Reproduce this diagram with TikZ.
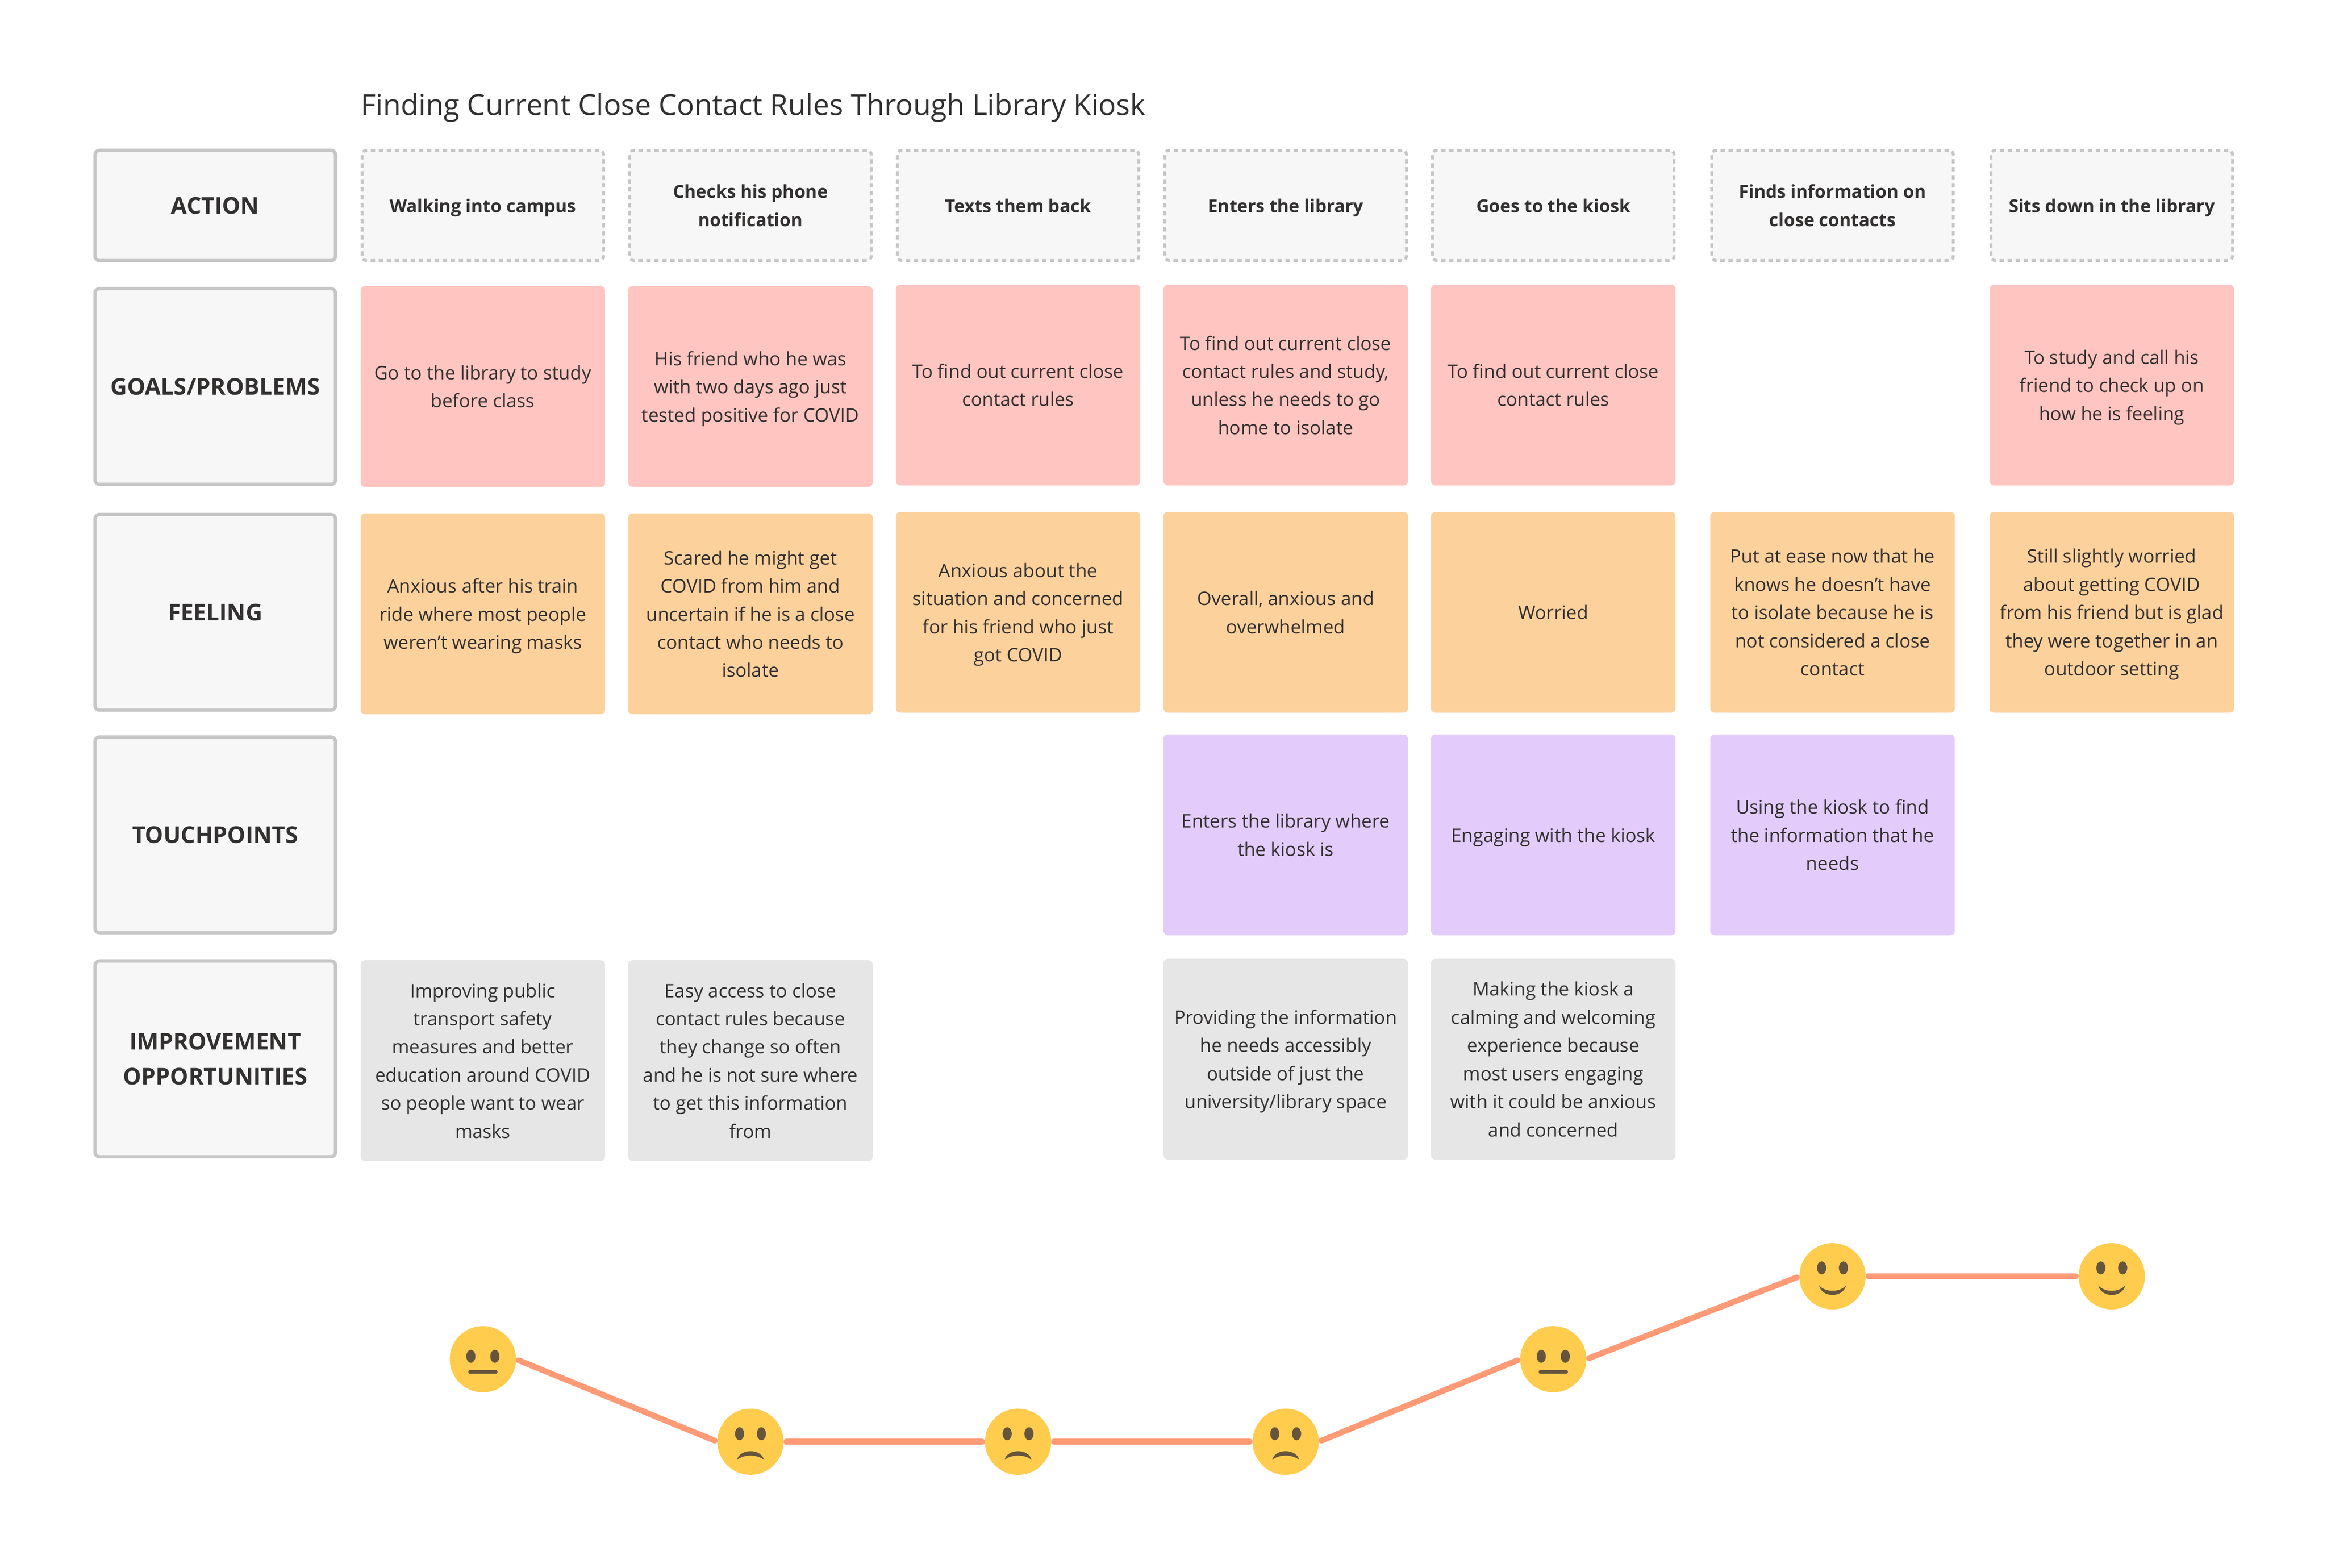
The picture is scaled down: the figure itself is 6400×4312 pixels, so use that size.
\documentclass[tikz,border=0pt]{standalone}
\usepackage{fontspec}
\setmainfont{Open Sans}
\usetikzlibrary{positioning}
\definecolor{inkcol}{HTML}{333030}
\definecolor{edgecol}{HTML}{C6C6C6}
\definecolor{headfill}{HTML}{F7F7F7}
\definecolor{goalfill}{HTML}{FFC5C0}
\definecolor{feelfill}{HTML}{FCD19C}
\definecolor{touchfill}{HTML}{E3CCFC}
\definecolor{imprfill}{HTML}{E6E6E6}
\definecolor{facefill}{HTML}{FFCC4D}
\definecolor{facemark}{HTML}{66553D}
\definecolor{moodcol}{HTML}{FF9A76}
\tikzset{
    card/.style={rectangle,rounded corners=0.12cm,minimum width=6.72cm,minimum height=5.52cm,
        inner sep=0pt,outer sep=0pt,align=center,text=inkcol,font=\fontsize{14.6}{22}\selectfont,
        text depth=0pt},
    labelbox/.style={card,draw=edgecol,line width=0.09cm,fill=headfill,minimum width=6.61cm,minimum height=5.38cm,
        font=\fontsize{18}{27.5}\selectfont\bfseries,text depth=-2pt},
    actbox/.style={card,draw=edgecol,line width=0.08cm,fill=headfill,dash pattern=on 0.12cm off 0.1cm,
        minimum width=6.64cm,minimum height=3.03cm,font=\fontsize{14}{22}\selectfont\bfseries},
    goalbox/.style={card,fill=goalfill},
    feelbox/.style={card,fill=feelfill},
    touchbox/.style={card,fill=touchfill},
    imprbox/.style={card,fill=imprfill},
    facebox/.style={circle,fill=facefill,minimum size=1.82cm,inner sep=0pt,outer sep=0pt},
    moodline/.style={draw=moodcol,line width=0.16cm,line cap=round,shorten >=0.08cm,shorten <=0.08cm},
    eyes/.pic={
        \fill[facemark] (-#1,0) ellipse (0.125cm and 0.18cm);
        \fill[facemark] (#1,0) ellipse (0.125cm and 0.18cm);
    },
    neutral/.pic={
        \pic at (0,-8) {eyes=33};
        \fill[facemark,rounded corners=0.04cm] (-40,30) rectangle (40,40);
    },
    sad/.pic={
        \pic at (0,-22) {eyes=30};
        \fill[facemark] (-37,50) .. controls (-30,18) and (30,18) .. (37,50)
            .. controls (20,34) and (-20,34) .. (-37,50) -- cycle;
    },
    happy/.pic={
        \pic at (0,-23) {eyes=30};
        \fill[facemark] (-37,25) .. controls (-30,60) and (30,60) .. (37,25)
            .. controls (20,45) and (-20,45) .. (-37,25) -- cycle;
    }
}
\begin{document}
\begin{tikzpicture}[x=0.01cm,y=-0.01cm]
    \useasboundingbox (0,0) rectangle (6400,4312);

    \node[anchor=west,inner sep=0pt,text=inkcol,font=\fontsize{22.65}{28}\selectfont] (title) at (992,296)
        {Finding Current Close Contact Rules Through Library Kiosk};

    % row labels
    \node[labelbox,minimum height=3.03cm] (lab1) at (592,565) {ACTION};
    \node[labelbox] (lab2) at (592,1063) {GOALS/PROBLEMS};
    \node[labelbox] (lab3) at (592,1684) {FEELING};
    \node[labelbox] (lab4) at (592,2296) {TOUCHPOINTS};
    \node[labelbox] (lab5) at (592,2912) {IMPROVEMENT\\OPPORTUNITIES};

    % actions
    \node[actbox] (act1) at (1328,565) {Walking into campus};
    \node[actbox] (act2) at (2064,565) {Checks his phone\\notification};
    \node[actbox] (act3) at (2800,565) {Texts them back};
    \node[actbox] (act4) at (3536,565) {Enters the library};
    \node[actbox] (act5) at (4272,565) {Goes to the kiosk};
    \node[actbox] (act6) at (5040,565) {Finds information on\\close contacts};
    \node[actbox] (act7) at (5808,565) {Sits down in the library};

    % goals
    \node[goalbox] (goal1) at (1328,1063) {Go to the library to study\\before class};
    \node[goalbox] (goal2) at (2064,1063) {His friend who he was\\with two days ago just\\tested positive for COVID};
    \node[goalbox] (goal3) at (2800,1059) {To find out current close\\contact rules};
    \node[goalbox] (goal4) at (3536,1059) {To find out current close\\contact rules and study,\\unless he needs to go\\home to isolate};
    \node[goalbox] (goal5) at (4272,1059) {To find out current close\\contact rules};
    \node[goalbox] (goal7) at (5808,1059) {To study and call his\\friend to check up on\\how he is feeling};

    % feelings
    \node[feelbox] (feel1) at (1328,1688) {Anxious after his train\\ride where most people\\weren’t wearing masks};
    \node[feelbox] (feel2) at (2064,1688) {Scared he might get\\COVID from him and\\uncertain if he is a close\\contact who needs to\\isolate};
    \node[feelbox] (feel3) at (2800,1684) {Anxious about the\\situation and concerned\\for his friend who just\\got COVID};
    \node[feelbox] (feel4) at (3536,1684) {Overall, anxious and\\overwhelmed};
    \node[feelbox] (feel5) at (4272,1684) {Worried};
    \node[feelbox] (feel6) at (5040,1684) {Put at ease now that he\\knows he doesn’t have\\to isolate because he is\\not considered a close\\contact};
    \node[feelbox] (feel7) at (5808,1684) {Still slightly worried\\about getting COVID\\from his friend but is glad\\they were together in an\\outdoor setting};

    % touchpoints
    \node[touchbox] (touch4) at (3536,2296) {Enters the library where\\the kiosk is};
    \node[touchbox] (touch5) at (4272,2296) {Engaging with the kiosk};
    \node[touchbox] (touch6) at (5040,2296) {Using the kiosk to find\\the information that he\\needs};

    % opportunities
    \node[imprbox] (impr1) at (1328,2917) {Improving public\\transport safety\\measures and better\\education around COVID\\so people want to wear\\masks};
    \node[imprbox] (impr2) at (2064,2917) {Easy access to close\\contact rules because\\they change so often\\and he is not sure where\\to get this information\\from};
    \node[imprbox] (impr4) at (3536,2913) {Providing the information\\he needs accessibly\\outside of just the\\university/library space};
    \node[imprbox] (impr5) at (4272,2913) {Making the kiosk a\\calming and welcoming\\experience because\\most users engaging\\with it could be anxious\\and concerned};

    % mood curve
    \node[facebox] (face1) at (1328,3738) {};
    \node[facebox] (face2) at (2064,3965) {};
    \node[facebox] (face3) at (2800,3965) {};
    \node[facebox] (face4) at (3536,3965) {};
    \node[facebox] (face5) at (4272,3738) {};
    \node[facebox] (face6) at (5040,3510) {};
    \node[facebox] (face7) at (5808,3510) {};
    \foreach \a/\b in {1/2,2/3,3/4,4/5,5/6,6/7}
        \draw[moodline] (face\a.east) -- (face\b.west);
    \pic at (face1) {neutral};
    \pic at (face2) {sad};
    \pic at (face3) {sad};
    \pic at (face4) {sad};
    \pic at (face5) {neutral};
    \pic at (face6) {happy};
    \pic at (face7) {happy};
\end{tikzpicture}
\end{document}
